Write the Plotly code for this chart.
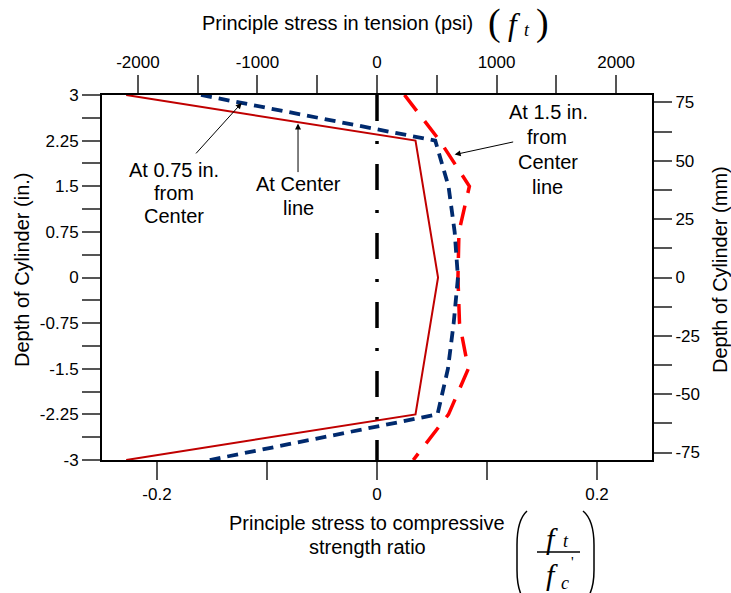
import plotly.graph_objects as go

# ---- data -------------------------------------------------------------
# Principle stress / compressive strength ratio along the cylinder depth (in.)
depth_center = [3, 2.25, 0, -2.25, -3]
ratio_center = [-0.228, 0.035, 0.0555, 0.035, -0.228]

depth_075 = [3, 2.25, 1.5, 0.75, 0, -0.75, -1.5, -2.25, -3]
ratio_075 = [-0.160, 0.053, 0.065, 0.0706, 0.0736, 0.0697, 0.0645, 0.055, -0.152]

depth_150 = [3, 2.25, 1.5, 0.75, 0, -0.75, -1.5, -2.25, -3]
ratio_150 = [0.025, 0.057, 0.084, 0.0745, 0.0736, 0.075, 0.083, 0.065, 0.033]

# cylinder axis (zero stress reference)
axis_depth = [3, -3]
axis_ratio = [0, 0]

# ---- tick definitions ------------------------------------------------
ratio_ticks = [-0.2, -0.1, 0, 0.1, 0.2]
ratio_labels = ["-0.2", "", "0", "", "0.2"]

psi_ticks = [-2000, -1500, -1000, -500, 0, 500, 1000, 1500, 2000]
psi_labels = ["-2000", "", "-1000", "", "0", "", "1000", "", "2000"]

in_ticks = [3, 2.625, 2.25, 1.875, 1.5, 1.125, 0.75, 0.375, 0,
            -0.375, -0.75, -1.125, -1.5, -1.875, -2.25, -2.625, -3]
in_labels = ["3", "", "2.25", "", "1.5", "", "0.75", "", "0",
             "", "-0.75", "", "-1.5", "", "-2.25", "", "-3"]

mm_ticks = [75, 62.5, 50, 37.5, 25, 12.5, 0, -12.5, -25, -37.5, -50, -62.5, -75]
mm_labels = ["75", "", "50", "", "25", "", "0", "", "-25", "", "-50", "", "-75"]

SANS = "Liberation Sans, Arial, sans-serif"
SERIF = "Liberation Serif, Times New Roman, serif"

W, H = 731, 593
ML, MR, MT, MB = 102, 79, 95, 133


def px(x):
    return (x - ML) / (W - ML - MR)


def py(y):
    return (H - MB - y) / (H - MT - MB)


fig = go.Figure()

fig.add_trace(go.Scatter(
    x=axis_ratio, y=axis_depth, mode="lines",
    line=dict(color="black", width=3.5, dash="26px,20px,3px,20px"),
    showlegend=False, hoverinfo="skip"))

fig.add_trace(go.Scatter(
    x=ratio_150, y=depth_150, mode="lines",
    line=dict(color="#FF0000", width=3.5, dash="20px,13px"),
    showlegend=False, hoverinfo="skip"))

fig.add_trace(go.Scatter(
    x=ratio_075, y=depth_075, mode="lines",
    line=dict(color="#002A6E", width=3.8, dash="11px,7px"),
    showlegend=False, hoverinfo="skip"))

fig.add_trace(go.Scatter(
    x=ratio_center, y=depth_center, mode="lines",
    line=dict(color="#C00000", width=2),
    showlegend=False, hoverinfo="skip"))

# secondary axes (psi on top, mm on the right)
fig.add_trace(go.Scatter(
    x=[None], y=[None], xaxis="x2", yaxis="y2", mode="markers",
    showlegend=False, hoverinfo="skip"))

tickfont = dict(family=SANS, size=17, color="black")
common = dict(ticks="outside", ticklen=18, tickwidth=1.5, tickcolor="#555",
              showline=True, linecolor="black", linewidth=2,
              showgrid=False, zeroline=False, tickfont=tickfont)

fig.update_layout(
    width=W, height=H, autosize=False,
    margin=dict(l=ML, r=MR, t=MT, b=MB, pad=0),
    paper_bgcolor="white", plot_bgcolor="white",
    xaxis=dict(range=[-0.25, 0.25], tickvals=ratio_ticks, ticktext=ratio_labels,
               tickmode="array", **common),
    xaxis2=dict(range=[-2300, 2300], tickvals=psi_ticks, ticktext=psi_labels,
                tickmode="array", overlaying="x", side="top", anchor="y", **common),
    yaxis=dict(range=[-3, 3], tickvals=in_ticks, ticktext=in_labels,
               tickmode="array", **common),
    yaxis2=dict(range=[-78.2, 78.2], tickvals=mm_ticks, ticktext=mm_labels,
                tickmode="array", overlaying="y", side="right", anchor="x", **common),
)

ann = []


def text(x, y, s, size=20, family=SANS, italic=False, angle=0):
    if italic:
        s = "<i>" + s + "</i>"
    ann.append(dict(xref="paper", yref="paper", x=px(x), y=py(y), text=s,
                    showarrow=False, xanchor="center", yanchor="middle",
                    textangle=angle,
                    font=dict(family=family, size=size, color="black")))


def arrow(x, y, ax, ay):
    ann.append(dict(xref="x", yref="y", x=x, y=y, ax=ax, ay=ay, text="",
                    showarrow=True, arrowhead=2, arrowsize=1.2, arrowwidth=1,
                    arrowcolor="black"))


# axis titles
text(337, 23, "Principle stress in tension (psi)")
text(367, 523, "Principle stress to compressive")
text(367, 547, "strength ratio")
text(22, 270, "Depth of Cylinder (in.)", angle=-90)
text(720, 270, "Depth of Cylinder (mm)", angle=-90)

# f_t symbol next to the top title
text(494, 22, "(", size=38, family=SERIF)
text(514, 24, "f", size=31, family=SERIF, italic=True)
text(527, 30, "t", size=18, family=SERIF, italic=True)
text(542, 22, ")", size=38, family=SERIF)

# f_t / f_c' ratio symbol next to the bottom title
text(552, 538, "f", size=30, family=SERIF, italic=True)
text(566, 541, "t", size=18, family=SERIF, italic=True)
text(552, 574, "f", size=30, family=SERIF, italic=True)
text(565, 583, "c", size=18, family=SERIF, italic=True)
text(572, 562, "'", size=15, family=SERIF)

# curve labels
text(174, 170, "At 0.75 in.")
text(174, 193, "from")
text(174, 216, "Center")
text(298, 184, "At Center")
text(298, 208, "line")
text(548, 112, "At 1.5 in.")
text(547, 137, "from")
text(548, 162, "Center")
text(547, 187, "line")

arrow(-0.123, 2.87, -47, 52)
arrow(-0.0718, 2.53, 0, 50)
arrow(0.0706, 2.02, 60, -13)

fig.update_layout(annotations=ann)


def ppath(points_cmds):
    out = []
    for cmd, pts in points_cmds:
        out.append(cmd + " ".join(f"{px(a):.5f},{py(b):.5f}" for a, b in pts))
    return " ".join(out)


shapes = [
    # fraction bar
    dict(type="line", xref="paper", yref="paper",
         x0=px(537), y0=py(552), x1=px(580), y1=py(552),
         line=dict(color="black", width=1.3)),
    # large parentheses
    dict(type="path", xref="paper", yref="paper",
         path=ppath([("M", [(527, 511)]), ("Q", [(517, 520), (517, 545)]),
                     ("L", [(517, 570)]), ("Q", [(517, 594), (527, 603)])]),
         line=dict(color="black", width=1.5)),
    dict(type="path", xref="paper", yref="paper",
         path=ppath([("M", [(583, 511)]), ("Q", [(594, 520), (594, 545)]),
                     ("L", [(594, 570)]), ("Q", [(594, 594), (583, 603)])]),
         line=dict(color="black", width=1.5)),
]
fig.update_layout(shapes=shapes)

fig.write_html("out.html")
